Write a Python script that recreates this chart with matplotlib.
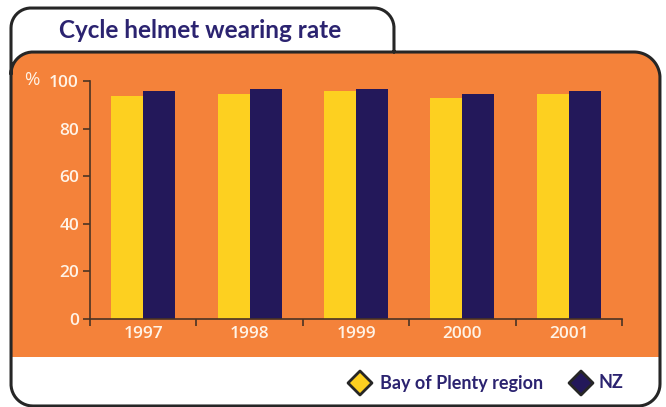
import numpy as np
import matplotlib
matplotlib.use("Agg")
import matplotlib.pyplot as plt
from matplotlib.patches import Polygon

years = ["1997", "1998", "1999", "2000", "2001"]
bop = [93.7, 94.5, 95.8, 93.0, 94.5]
nz = [95.8, 96.6, 96.6, 94.5, 95.8]
series_names = ["Bay of Plenty region", "NZ"]
title = "Cycle helmet wearing rate"

ORANGE = "#F4823A"
YELLOW = "#FDD020"
NAVY = "#23185A"
TITLE_C = "#2B2370"
LINE_C = "#262626"
AXIS_C = "#4A3324"
TICK_TXT = "#FFF3E6"

W, H = 666, 407
fig = plt.figure(figsize=(W / 100, H / 100), dpi=100)
fig.patch.set_facecolor("white")

bg = fig.add_axes([0, 0, 1, 1], zorder=0)
bg.set_xlim(0, W)
bg.set_ylim(H, 0)
bg.axis("off")


def arc(cx, cy, r, a0, a1, n=24):
    a = np.radians(np.linspace(a0, a1, n))
    return list(zip(cx + r * np.cos(a), cy - r * np.sin(a)))


# orange panel
orange_pts = [(11, 357), (11, 74)] + arc(33, 74, 22, 180, 90) + arc(634, 78, 26, 90, 0) + [(660, 357)]
bg.add_patch(Polygon(orange_pts, closed=True, facecolor=ORANGE, edgecolor="none", zorder=1))

lw = 2.2
outline = ([(394, 52), (394, 28)] + arc(374, 28, 20, 0, 90) + arc(31, 28, 20, 90, 180)
           + [(11, 384)] + arc(33, 384, 22, 180, 270) + arc(638, 384, 22, 270, 360)
           + [(660, 78)] + arc(634, 78, 26, 0, 90) + arc(33, 74, 22, 90, 180))
xs, ys = zip(*outline)
bg.plot(xs, ys, color=LINE_C, lw=lw, solid_joinstyle="round", solid_capstyle="round", zorder=3)

bg.text(200, 30, title, ha="center", va="center", fontsize=17.5, fontweight="bold",
        family="Lato", color=TITLE_C, zorder=4)
bg.text(24, 80, "%", ha="left", va="center", fontsize=13.5, family="Open Sans",
        color=TICK_TXT, zorder=4)


def diamond(cx, cy, r, fc):
    pts = [(cx, cy - r), (cx + r, cy), (cx, cy + r), (cx - r, cy)]
    bg.add_patch(Polygon(pts, closed=True, facecolor=fc, edgecolor=LINE_C, lw=2.0,
                         joinstyle="round", zorder=4))


diamond(360, 383, 12, YELLOW)
bg.text(380, 383, series_names[0], ha="left", va="center", fontsize=13, fontweight="bold",
        family="Lato", color=TITLE_C, zorder=4)
diamond(581, 383, 12, NAVY)
bg.text(598, 383, series_names[1], ha="left", va="center", fontsize=13, fontweight="bold",
        family="Lato", color=TITLE_C, zorder=4)

# main axes
ax = fig.add_axes([90 / W, (H - 319) / H, 532 / W, 238 / H], zorder=2)
ax.patch.set_alpha(0)
x = np.arange(len(years))
bw = 0.3
ax.bar(x - bw / 2, bop, width=bw, color=YELLOW, zorder=2)
ax.bar(x + bw / 2, nz, width=bw, color=NAVY, zorder=2)
ax.set_xlim(-0.5, len(years) - 0.5)
ax.set_ylim(0, 100)
for s in ["top", "right"]:
    ax.spines[s].set_visible(False)
for s in ["left", "bottom"]:
    ax.spines[s].set_color(AXIS_C)
    ax.spines[s].set_linewidth(1.2)
ax.set_yticks([0, 20, 40, 60, 80, 100])
ax.tick_params(axis="y", direction="out", length=5, width=1.2, color=AXIS_C, pad=3,
               labelsize=12.5, labelcolor=TICK_TXT)
ax.set_xticks(np.arange(-0.5, len(years), 1.0))
ax.set_xticklabels([])
ax.set_xticks(x, minor=True)
ax.set_xticklabels(years, minor=True)
ax.tick_params(axis="x", which="major", direction="out", length=5, width=1.2, color=AXIS_C)
ax.tick_params(axis="x", which="minor", length=0, pad=5, labelsize=12.5, labelcolor=TICK_TXT)
for lab in ax.get_xticklabels(minor=True) + ax.get_yticklabels():
    lab.set_family("Open Sans")
    lab.set_fontweight("semibold")

fig.savefig("out.png", dpi=100, facecolor="white")
